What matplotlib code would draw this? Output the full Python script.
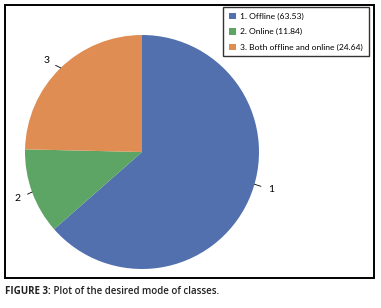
import numpy as np
import matplotlib.pyplot as plt
from matplotlib.patches import Rectangle

plt.rcParams['font.family'] = ['Lato', 'DejaVu Sans']

# data
labels = ["1. Offline (63.53)", "2. Online (11.84)", "3. Both offline and online (24.64)"]
values = [63.53, 11.84, 24.64]
wedge_tags = ["1", "2", "3"]
colors = ["#5170AD", "#5CA565", "#E08D53"]

W, H = 381, 308
fig = plt.figure(figsize=(W / 100, H / 100), dpi=100)

# outer frame around the chart
fig.add_artist(Rectangle((5 / W, 1 - 278 / H), 369 / W, 273 / H, transform=fig.transFigure,
                         fill=False, edgecolor="black", linewidth=1.4))

# pie axes: centre (142,152) px, radius 117 px
ax = fig.add_axes([25 / W, 1 - 269 / H, 234 / W, 234 / H])
wedges, _ = ax.pie(values, colors=colors, startangle=90, counterclock=False,
                   wedgeprops=dict(linewidth=0))
ax.set_xlim(-1, 1)
ax.set_ylim(-1, 1)

# outside labels with short leader lines
label_angles = [-16, 200, 134]
label_pos = [(1.10, -0.32), (-1.06, -0.40), (-0.82, 0.78)]
for tag, ang, pos in zip(wedge_tags, label_angles, label_pos):
    a = np.deg2rad(ang)
    x0, y0 = np.cos(a), np.sin(a)
    ax.annotate(tag, xy=(x0, y0), xytext=pos, ha="center", va="center", fontsize=7.5,
                annotation_clip=False,
                arrowprops=dict(arrowstyle="-", color="black", lw=0.6,
                                shrinkA=3, shrinkB=0,
                                connectionstyle="arc3,rad=0"))

leg = fig.legend(wedges, labels, loc="upper left", bbox_to_anchor=(223 / W, 1 - 7 / H),
                 fontsize=6.1, frameon=True, fancybox=False, edgecolor="black",
                 handlelength=0.85, handleheight=0.85, handletextpad=0.55,
                 labelspacing=0.95, borderpad=0.65, borderaxespad=0)
leg.get_frame().set_linewidth(1.0)

cap = fig.text(5 / W, 1 - 291 / H, "FIGURE 3:", fontsize=7, fontweight="bold",
               va="center", ha="left", family="Open Sans", color="#222222")
fig.text(0, 0, "", transform=fig.transFigure)
ax.annotate(" Plot of the desired mode of classes.", xy=(1, 0.5), xycoords=cap,
            va="center", ha="left", fontsize=7, fontweight="semibold",
            family="Open Sans", color="#222222", annotation_clip=False)

fig.savefig("out.png", dpi=100)
